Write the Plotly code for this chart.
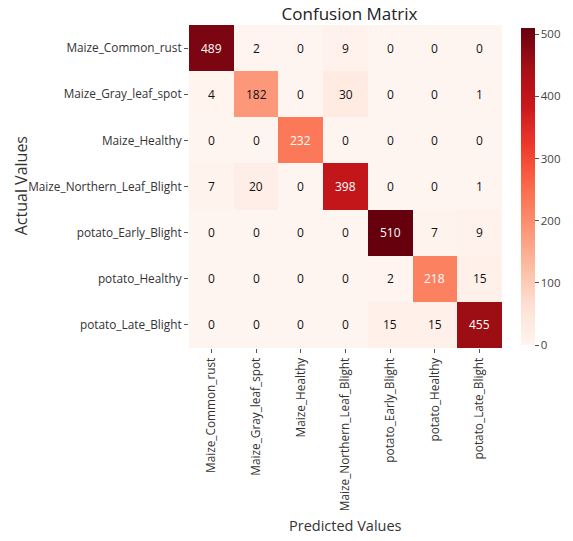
import plotly.graph_objects as go

# Class labels (rows = actual, columns = predicted)
classes = [
    "Maize_Common_rust",
    "Maize_Gray_leaf_spot",
    "Maize_Healthy",
    "Maize_Northern_Leaf_Blight",
    "potato_Early_Blight",
    "potato_Healthy",
    "potato_Late_Blight",
]

row_common_rust = [489, 2, 0, 9, 0, 0, 0]
row_gray_leaf_spot = [4, 182, 0, 30, 0, 0, 1]
row_maize_healthy = [0, 0, 232, 0, 0, 0, 0]
row_northern_leaf_blight = [7, 20, 0, 398, 0, 0, 1]
row_early_blight = [0, 0, 0, 0, 510, 7, 9]
row_potato_healthy = [0, 0, 0, 0, 2, 218, 15]
row_late_blight = [0, 0, 0, 0, 15, 15, 455]

colorbar_ticks = [0, 100, 200, 300, 400, 500]

matrix = [
    row_common_rust,
    row_gray_leaf_spot,
    row_maize_healthy,
    row_northern_leaf_blight,
    row_early_blight,
    row_potato_healthy,
    row_late_blight,
]

reds = [
    [0.000, "#fff5f0"],
    [0.125, "#fee0d2"],
    [0.250, "#fcbba1"],
    [0.375, "#fc9272"],
    [0.500, "#fb6a4a"],
    [0.625, "#ef3b2c"],
    [0.750, "#cb181d"],
    [0.875, "#a50f15"],
    [1.000, "#67000d"],
]

zmax = max(max(r) for r in matrix)

FONT = "Open Sans"
W, H = 573, 541
L, R, T, B = 189, 63, 25, 193
plot_w = W - L - R

fig = go.Figure(
    go.Heatmap(
        z=matrix,
        x=classes,
        y=classes,
        colorscale=reds,
        zmin=0,
        zmax=zmax,
        showscale=True,
        colorbar=dict(
            thickness=14,
            x=(529 - L) / plot_w,
            xanchor="left",
            xpad=0,
            y=0.5,
            yanchor="middle",
            len=1.0,
            lenmode="fraction",
            ypad=3,
            outlinewidth=0,
            tickvals=colorbar_ticks,
            ticks="outside",
            ticklen=4,
            tickcolor="#555",
            tickfont=dict(family=FONT, size=11.5, color="#444"),
        ),
        hoverinfo="skip",
    )
)

# Cell counts, white on dark cells
annotations = []
for i, row in enumerate(matrix):
    for j, v in enumerate(row):
        annotations.append(
            dict(
                x=classes[j],
                y=classes[i],
                xref="x",
                yref="y",
                text=str(v),
                showarrow=False,
                font=dict(family=FONT, size=12,
                          color="white" if v > 200 else "#111"),
            )
        )

# Axis titles
annotations.append(dict(
    text="Predicted Values", xref="paper", yref="paper",
    x=0.5, y=(H - 525 - B) / (H - T - B), xanchor="center", yanchor="middle",
    showarrow=False, font=dict(family=FONT, size=14.5, color="#333"),
))
annotations.append(dict(
    text="Actual Values", xref="paper", yref="paper",
    x=(17 - L) / plot_w, y=(H - 186 - B) / (H - T - B),
    xanchor="center", yanchor="middle", textangle=-90,
    showarrow=False, font=dict(family=FONT, size=16, color="#333"),
))

fig.update_layout(
    width=W,
    height=H,
    margin=dict(l=L, r=R, t=T, b=B),
    paper_bgcolor="white",
    plot_bgcolor="white",
    title=dict(
        text="Confusion Matrix",
        x=(L + plot_w / 2) / W,
        xanchor="center",
        y=1 - 14 / H,
        yanchor="middle",
        font=dict(family=FONT, size=17, color="#222"),
    ),
    annotations=annotations,
    xaxis=dict(
        tickangle=-90,
        ticks="outside",
        ticklen=4,
        tickcolor="#555",
        tickfont=dict(family=FONT, size=11.8, color="#333"),
        showgrid=False,
        zeroline=False,
        showline=False,
    ),
    yaxis=dict(
        autorange="reversed",
        ticks="outside",
        ticklen=4,
        tickcolor="#555",
        tickfont=dict(family=FONT, size=11.8, color="#333"),
        showgrid=False,
        zeroline=False,
        showline=False,
    ),
)

fig.write_html("out.html")
